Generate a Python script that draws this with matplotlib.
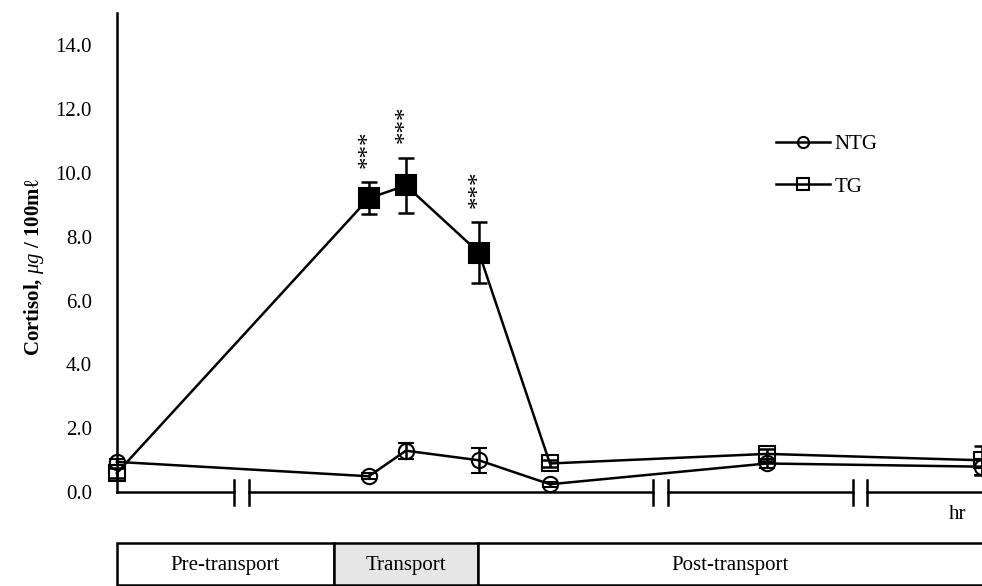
import numpy as np
import matplotlib
matplotlib.use("Agg")
from matplotlib import pyplot as plt
from matplotlib.transforms import blended_transform_factory
from matplotlib.lines import Line2D
from matplotlib.patches import Rectangle

plt.rcParams['font.family'] = ['Liberation Serif', 'DejaVu Serif']
plt.rcParams['mathtext.fontset'] = 'custom'
plt.rcParams['mathtext.it'] = 'Liberation Serif:italic'
plt.rcParams['mathtext.rm'] = 'Liberation Serif'

# sampling positions along the (broken) time axis
x = [0, 2.52, 2.89, 3.62, 4.33, 6.50, 8.65]

ntg = [0.95, 0.50, 1.30, 1.00, 0.25, 0.90, 0.80]
ntg_err = [0.10, 0.10, 0.25, 0.40, 0.08, 0.15, 0.25]
tg = [0.60, 9.20, 9.60, 7.50, 0.90, 1.20, 1.00]
tg_err = [0.15, 0.50, 0.87, 0.95, 0.10, 0.15, 0.45]
tg_filled = [False, True, True, True, False, False, False]
sig_idx = [1, 2, 3]

yticks = [0, 2, 4, 6, 8, 10, 12, 14]
breaks = [(1.17, 1.32), (5.36, 5.51), (7.36, 7.50)]
periods = ['Pre-transport', 'Transport', 'Post-transport']
period_edges = [0, 2.17, 3.61, 9.5]
period_text_x = [1.08, 2.89, 6.13]
period_colors = ['white', '#e6e6e6', 'white']

fig = plt.figure(figsize=(9.82, 5.86), dpi=100)
ax = fig.add_axes([0.119, 0.160, 0.881, 0.818])
ax.set_xlim(0, 8.65)
ax.set_ylim(0, 15)

lw = 1.8
# NTG series
ax.errorbar(x, ntg, yerr=ntg_err, color='black', lw=lw, capsize=6, capthick=lw,
            elinewidth=lw, marker='o', ms=11, mfc='none', mec='black', mew=1.5,
            clip_on=False, zorder=3)
# TG series
ax.errorbar(x, tg, yerr=tg_err, color='black', lw=lw, capsize=6, capthick=lw,
            elinewidth=lw, fmt='-', clip_on=False, zorder=3)
for xi, yi, f in zip(x, tg, tg_filled):
    ax.plot(xi, yi, marker='s', ms=15 if f else 11, mfc='black' if f else 'none',
            mec='black', mew=1.5, clip_on=False, zorder=4)

for i in sig_idx:
    ax.text(x[i], tg[i] + tg_err[i] + 0.45, '***', rotation=90, ha='center',
            va='bottom', fontsize=18)

# axes
for s in ['top', 'right', 'bottom']:
    ax.spines[s].set_visible(False)
ax.spines['left'].set_linewidth(lw)
ax.set_yticks(yticks)
ax.set_yticklabels(['%.1f' % v for v in yticks], fontsize=15)
ax.tick_params(axis='y', length=0, pad=18)
ax.set_xticks([])

# broken x axis
segs = [0] + [b for pair in breaks for b in pair] + [8.65]
for a, b in zip(segs[0::2], segs[1::2]):
    ax.plot([a, b], [0, 0], color='black', lw=lw, clip_on=False, zorder=2)
trans = blended_transform_factory(ax.transData, ax.transAxes)
for pair in breaks:
    for b in pair:
        ax.add_line(Line2D([b, b], [-0.026, 0.026], color='black', lw=lw,
                           transform=trans, clip_on=False))
ax.text(8.41, -0.027, 'hr', transform=trans, ha='center', va='top', fontsize=15)

ax.set_ylabel('Cortisol, $\\mathit{\\mu g}$ / 100m\u2113', fontsize=15,
              fontweight='bold')
ax.yaxis.set_label_coords(-0.082, 0.47)

# period table
for i in range(len(periods)):
    x0, x1 = period_edges[i], period_edges[i + 1]
    ax.add_patch(Rectangle((x0, -0.194), x1 - x0, 0.0875, transform=trans,
                           facecolor=period_colors[i], edgecolor='black',
                           lw=lw, clip_on=False))
    ax.text(period_text_x[i], -0.152, periods[i], transform=trans, ha='center',
            va='center', fontsize=15)

# legend
h_ntg = Line2D([], [], color='black', lw=lw, marker='o', ms=8, mfc='none', mew=1.5)
h_tg = Line2D([], [], color='black', lw=lw, marker='s', ms=8, mfc='none', mew=1.5)
ax.legend([h_ntg, h_tg], ['NTG', 'TG'], frameon=False, fontsize=15,
          loc='upper left', bbox_to_anchor=(0.74, 0.785), handlelength=2.6,
          handletextpad=0.2, labelspacing=1.1)

fig.savefig('out.png', dpi=100)
